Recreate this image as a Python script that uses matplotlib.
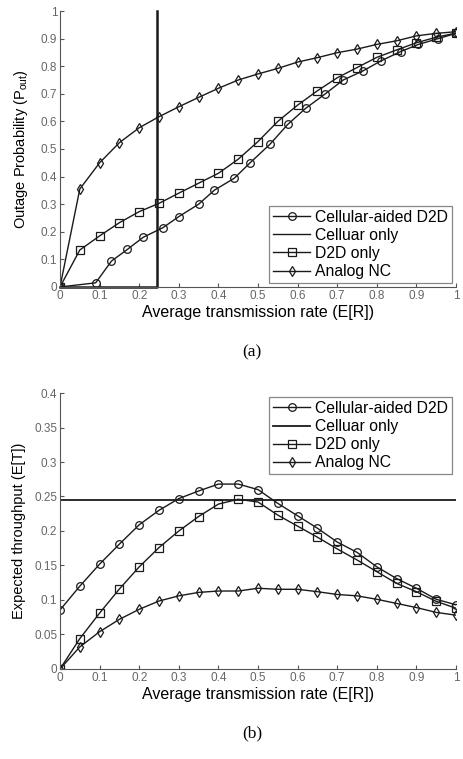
import numpy as np
import matplotlib
matplotlib.use('Agg')
import matplotlib.pyplot as plt

plt.rcParams['font.family'] = ['Liberation Sans', 'DejaVu Sans']
plt.rcParams['mathtext.default'] = 'regular'

# (a) outage probability
x_caided_a = [0, 0.09, 0.13, 0.17, 0.21, 0.26, 0.30, 0.35, 0.39, 0.44, 0.48, 0.53,
              0.575, 0.62, 0.67, 0.715, 0.765, 0.81, 0.86, 0.905, 0.955, 1.0]
y_caided_a = [0, 0.015, 0.094, 0.136, 0.18, 0.215, 0.255, 0.30, 0.351, 0.394, 0.45, 0.517,
              0.589, 0.647, 0.70, 0.75, 0.783, 0.819, 0.853, 0.879, 0.90, 0.919]
x_grid = [0, 0.05, 0.1, 0.15, 0.2, 0.25, 0.3, 0.35, 0.4, 0.45, 0.5,
          0.55, 0.6, 0.65, 0.7, 0.75, 0.8, 0.85, 0.9, 0.95, 1.0]
y_d2d_a = [0, 0.134, 0.185, 0.233, 0.273, 0.303, 0.34, 0.376, 0.412, 0.463, 0.527,
           0.60, 0.659, 0.711, 0.758, 0.795, 0.832, 0.859, 0.885, 0.905, 0.92]
y_anc_a = [0, 0.355, 0.45, 0.523, 0.577, 0.617, 0.653, 0.687, 0.72, 0.75, 0.772,
           0.792, 0.815, 0.831, 0.849, 0.862, 0.879, 0.892, 0.91, 0.919, 0.925]
cell_rate = 0.245
x_cell_a = [0, cell_rate, cell_rate]
y_cell_a = [0, 0, 1]

# (b) expected throughput
y_caided_b = [0.0855, 0.12, 0.152, 0.181, 0.209, 0.23, 0.247, 0.258, 0.268, 0.268, 0.26,
              0.24, 0.222, 0.204, 0.184, 0.169, 0.148, 0.131, 0.117, 0.101, 0.093]
y_d2d_b = [0, 0.044, 0.081, 0.116, 0.148, 0.176, 0.2, 0.221, 0.239, 0.246, 0.242,
           0.223, 0.207, 0.191, 0.174, 0.158, 0.141, 0.124, 0.112, 0.098, 0.088]
y_anc_b = [0, 0.032, 0.054, 0.072, 0.0865, 0.0985, 0.106, 0.111, 0.113, 0.113, 0.117,
           0.1155, 0.1155, 0.112, 0.108, 0.106, 0.101, 0.095, 0.089, 0.082, 0.078]
x_cell_b = [0, 1]
y_cell_b = [cell_rate, cell_rate]

labels = ['Cellular-aided D2D', 'Celluar only', 'D2D only', 'Analog NC']
xticks = [0, 0.1, 0.2, 0.3, 0.4, 0.5, 0.6, 0.7, 0.8, 0.9, 1]
xticklabels = ['0', '0.1', '0.2', '0.3', '0.4', '0.5', '0.6', '0.7', '0.8', '0.9', '1']

fig = plt.figure(figsize=(4.63, 7.59), dpi=100)
ax1 = fig.add_axes([0.1296, 0.6219, 0.8554, 0.3636])
ax2 = fig.add_axes([0.1296, 0.1186, 0.8554, 0.3636])

lc = '#1a1a1a'
mk = dict(color=lc, lw=1.0, ms=5.5, mfc='none', mec=lc, mew=0.9)


def style(ax, yticks, yticklabels, ylabel, loc, ypad):
    ax.set_xlim(0, 1)
    ax.set_xticks(xticks)
    ax.set_xticklabels(xticklabels)
    ax.set_yticks(yticks)
    ax.set_yticklabels(yticklabels)
    ax.set_ylim(yticks[0], yticks[-1])
    for s in ['top', 'right']:
        ax.spines[s].set_visible(False)
    for s in ['left', 'bottom']:
        ax.spines[s].set_color('#555555')
        ax.spines[s].set_linewidth(0.8)
    ax.tick_params(direction='in', length=3, width=0.8, color='#555555',
                   labelsize=8.5, labelcolor='#666666', pad=2)
    ax.set_xlabel('Average transmission rate (E[R])', fontsize=11.5, labelpad=2)
    ax.set_ylabel(ylabel, fontsize=10.5, labelpad=ypad)
    leg = ax.legend(loc=loc, fontsize=11.3,
                    frameon=True, fancybox=False, edgecolor='#888888', framealpha=1,
                    handlelength=2.4, handletextpad=0.3, borderpad=0.25,
                    labelspacing=0.2, borderaxespad=0.25)
    leg.get_frame().set_linewidth(0.9)
    return leg


ax1.plot(x_caided_a, y_caided_a, marker='o', label=labels[0], **mk)
ax1.plot(x_cell_a, y_cell_a, color=lc, lw=1.8, label=labels[1], clip_on=False)
ax1.plot(x_grid, y_d2d_a, marker='s', label=labels[2], **mk)
ax1.plot(x_grid, y_anc_a, marker='d', label=labels[3], **mk)
leg1 = style(ax1, [0, 0.1, 0.2, 0.3, 0.4, 0.5, 0.6, 0.7, 0.8, 0.9, 1],
             ['0', '0.1', '0.2', '0.3', '0.4', '0.5', '0.6', '0.7', '0.8', '0.9', '1'],
             'Outage Probability (P$_{out}$)', 'lower right', 8)
leg1.get_lines()[1].set_linewidth(1.0)

ax2.plot(x_grid, y_caided_b, marker='o', label=labels[0], **mk)
ax2.plot(x_cell_b, y_cell_b, color=lc, lw=1.3, label=labels[1])
ax2.plot(x_grid, y_d2d_b, marker='s', label=labels[2], **mk)
ax2.plot(x_grid, y_anc_b, marker='d', label=labels[3], **mk)
style(ax2, [0, 0.05, 0.1, 0.15, 0.2, 0.25, 0.3, 0.35, 0.4],
      ['0', '0.05', '0.1', '0.15', '0.2', '0.25', '0.3', '0.35', '0.4'],
      'Expected throughput (E[T])', 'upper right', 5.5)

fig.text(0.545, 1 - 352 / 759, '(a)', ha='center', va='center', fontsize=12.5,
         family='Liberation Serif')
fig.text(0.545, 1 - 733 / 759, '(b)', ha='center', va='center', fontsize=12.5,
         family='Liberation Serif')

fig.savefig('out.png', dpi=100)
